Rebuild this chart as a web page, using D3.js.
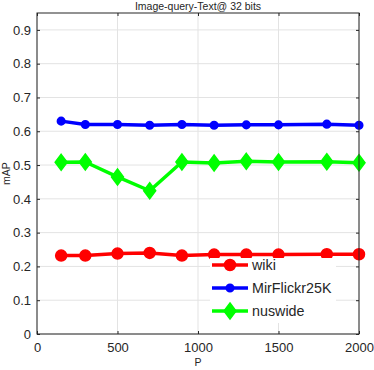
<!DOCTYPE html>
<html>
<head>
<meta charset="utf-8">
<script src="https://cdn.jsdelivr.net/npm/d3@7"></script>
<style>
  body { margin: 0; background: #fff; }
  svg { font-family: "Liberation Sans", Arial, sans-serif; }
</style>
</head>
<body>
<svg id="chart" width="374" height="370"></svg>
<script>
// values
const P = [150, 300, 500, 700, 900, 1100, 1300, 1500, 1800, 2000]
const wiki = [0.232, 0.232, 0.238, 0.240, 0.232, 0.235, 0.235, 0.235, 0.236, 0.236]
const mirflickr = [0.630, 0.620, 0.620, 0.618, 0.620, 0.618, 0.619, 0.619, 0.621, 0.618]
const nuswide = [0.508, 0.509, 0.465, 0.424, 0.509, 0.506, 0.511, 0.509, 0.510, 0.507]
const xTicks = [0, 500, 1000, 1500, 2000]
const yTicks = [0, 0.1, 0.2, 0.3, 0.4, 0.5, 0.6, 0.7, 0.8, 0.9]

const series = [
  { name: 'wiki', values: wiki, color: '#ff0000', marker: 'circle', size: 5.5 },
  { name: 'MirFlickr25K', values: mirflickr, color: '#0000ff', marker: 'circle', size: 3.8 },
  { name: 'nuswide', values: nuswide, color: '#00ff00', marker: 'diamond', size: 8 }
]

const margin = { top: 13, right: 15, bottom: 36, left: 37 }
const svg = d3.select('#chart')
const width = 374 - margin.left - margin.right
const height = 370 - margin.top - margin.bottom

const x = d3.scaleLinear().domain([0, 2000]).range([0, width])
const y = d3.scaleLinear().domain([0, 0.95]).range([height, 0])

const g = svg.append('g').attr('transform', `translate(${margin.left},${margin.top})`)

// grid
g.append('g')
  .selectAll('line.gx')
  .data(xTicks)
  .enter()
  .append('line')
  .attr('x1', d => x(d)).attr('x2', d => x(d))
  .attr('y1', 0).attr('y2', height)
  .attr('stroke', '#e3e3e3').attr('stroke-width', 1)
g.append('g')
  .selectAll('line.gy')
  .data(yTicks)
  .enter()
  .append('line')
  .attr('y1', d => y(d)).attr('y2', d => y(d))
  .attr('x1', 0).attr('x2', width)
  .attr('stroke', '#e3e3e3').attr('stroke-width', 1)

// axes with inward ticks, MATLAB style box
const axisColor = '#262626'
function styleAxis(sel, showText) {
  sel.select('.domain').remove()
  sel.selectAll('.tick line').attr('stroke', axisColor)
  sel.selectAll('.tick text')
    .attr('fill', axisColor)
    .style('font-size', '13px')
    .style('font-family', '"Liberation Sans", Arial, sans-serif')
  if (!showText) sel.selectAll('.tick text').remove()
}
g.append('g').attr('transform', `translate(0,${height})`)
  .call(d3.axisBottom(x).tickValues(xTicks).tickSize(-3).tickPadding(9).tickFormat(d3.format('d')))
  .call(s => styleAxis(s, true))
g.append('g')
  .call(d3.axisTop(x).tickValues(xTicks).tickSize(-3))
  .call(s => styleAxis(s, false))
g.append('g')
  .call(d3.axisLeft(y).tickValues(yTicks).tickSize(-3).tickPadding(6).tickFormat(d => d === 0 ? '0' : d3.format('.1f')(d)))
  .call(s => styleAxis(s, true))
g.append('g').attr('transform', `translate(${width},0)`)
  .call(d3.axisRight(y).tickValues(yTicks).tickSize(-3))
  .call(s => styleAxis(s, false))

function markerPath(type, size) {
  if (type === 'diamond') {
    return `M0,${-size}L${size * 0.75},0L0,${size}L${-size * 0.75},0Z`
  }
  return d3.symbol(d3.symbolCircle, Math.PI * size * size)()
}

const line = d3.line().x((d, i) => x(P[i])).y(d => y(d))

// series
series.forEach(s => {
  const sg = g.append('g')
  sg.append('path')
    .datum(s.values)
    .attr('d', line)
    .attr('fill', 'none')
    .attr('stroke', s.color)
    .attr('stroke-width', 3.5)
    .attr('stroke-linejoin', 'round')
  sg.selectAll('path.m')
    .data(s.values)
    .enter()
    .append('path')
    .attr('transform', (d, i) => `translate(${x(P[i])},${y(d)})`)
    .attr('d', markerPath(s.marker, s.size))
    .attr('fill', s.color)
    .attr('stroke', s.color)
    .attr('stroke-width', 1.5)
})

// box
g.append('rect')
  .attr('width', width).attr('height', height)
  .attr('fill', 'none').attr('stroke', axisColor).attr('stroke-width', 1)

// legend (white, no border)
const lg = svg.append('g').attr('transform', 'translate(210,258)')
lg.append('rect').attr('width', 126).attr('height', 65).attr('fill', '#fff')
series.forEach((s, i) => {
  const row = lg.append('g').attr('transform', `translate(0,${7 + i * 23})`)
  row.append('line').attr('x1', 2).attr('x2', 38).attr('y1', 0).attr('y2', 0)
    .attr('stroke', s.color).attr('stroke-width', 3.5)
  row.append('path').attr('transform', 'translate(20,0)')
    .attr('d', markerPath(s.marker, s.size))
    .attr('fill', s.color).attr('stroke', s.color).attr('stroke-width', 1.5)
  row.append('text').attr('x', 42).attr('y', 5)
    .attr('fill', axisColor).style('font-size', '14.3px')
    .text(s.name)
})

// title and labels
svg.append('text').attr('x', margin.left + width / 2).attr('y', 10)
  .attr('text-anchor', 'middle').attr('fill', axisColor).style('font-size', '10.5px')
  .text('Image-query-Text@ 32 bits')
svg.append('text').attr('x', margin.left + width / 2).attr('y', 366)
  .attr('text-anchor', 'middle').attr('fill', axisColor).style('font-size', '10.5px')
  .text('P')
svg.append('text')
  .attr('transform', `translate(10,${margin.top + height / 2}) rotate(-90)`)
  .attr('text-anchor', 'middle').attr('fill', axisColor).style('font-size', '10.5px')
  .text('mAP')
</script>
</body>
</html>
